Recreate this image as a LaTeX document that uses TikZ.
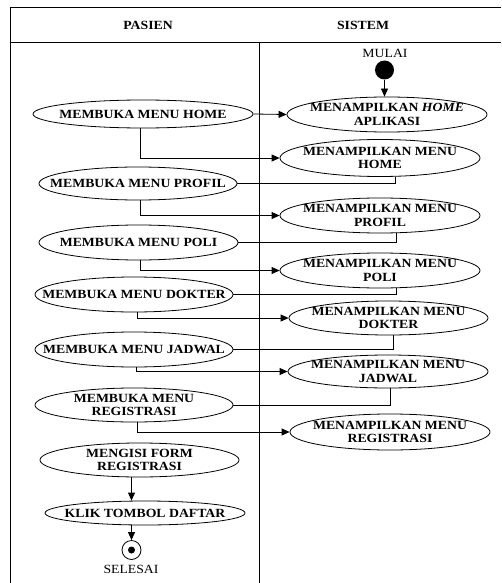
\documentclass[tikz,border=0pt]{standalone}
\usepackage{fontspec}
\setmainfont{Liberation Serif}[FakeStretch=1.1]
\usetikzlibrary{arrows.meta,shapes.geometric,calc}
\begin{document}
\begin{tikzpicture}[x=1pt,y=-1pt,
  act/.style={draw=black, line width=0.8pt, ellipse, inner sep=0pt, fill=white},
  lbl/.style={font=\fontsize{12.5}{13.5}\selectfont\bfseries, align=center, inner sep=0pt},
  plain/.style={font=\fontsize{12.5}{14}\selectfont, inner sep=0pt},
  arr/.style={-{Triangle[length=8pt,width=7pt]}, line width=0.8pt},
  ln/.style={line width=0.8pt},
  frame/.style={line width=1pt}]
\useasboundingbox (0,0) rectangle (501,583);
% swimlane frame
\draw[frame] (10,583) -- (10,8) -- (501,8);
\draw[frame] (10,43) -- (501,43);
\draw[frame] (259,43) -- (259,583);
\node[lbl] (hPasien) at (148,25.5) {PASIEN};
\node[lbl] (hSistem) at (363,25.5) {SISTEM};
% start
\node[plain] (mulai) at (385,53) {MULAI};
\node[circle, fill=black, minimum size=19pt, inner sep=0pt] (start) at (384.5,70) {};
% pasien activities
\node[act, minimum width=220pt, minimum height=28pt, label={[lbl]center:MEMBUKA MENU HOME}] (pHome) at (143,114) {};
\node[act, minimum width=198pt, minimum height=33pt, label={[lbl]center:MEMBUKA MENU PROFIL}] (pProfil) at (138,183.5) {};
\node[act, minimum width=199pt, minimum height=35pt, label={[lbl]center:MEMBUKA MENU POLI}] (pPoli) at (138.5,242.5) {};
\node[act, minimum width=198pt, minimum height=35pt, label={[lbl]center:MEMBUKA MENU DOKTER}] (pDokter) at (134,294.5) {};
\node[act, minimum width=198pt, minimum height=35pt, label={[lbl]center:MEMBUKA MENU JADWAL}] (pJadwal) at (134,349.5) {};
\node[act, minimum width=198pt, minimum height=34pt, label={[lbl]center:{MEMBUKA MENU\\REGISTRASI}}] (pReg) at (134,405) {};
\node[act, minimum width=199pt, minimum height=34pt, label={[lbl]center:{MENGISI FORM\\REGISTRASI}}] (pForm) at (139.5,460) {};
\node[act, minimum width=200pt, minimum height=24pt, label={[lbl]center:KLIK TOMBOL DAFTAR}] (pKlik) at (145,513) {};
% sistem activities
\node[act, minimum width=200pt, minimum height=35pt, label={[lbl]center:{MENAMPILKAN \textit{HOME}\\APLIKASI}}] (sApp) at (387,114.5) {};
\node[act, minimum width=200pt, minimum height=37pt, label={[lbl]center:{MENAMPILKAN MENU\\HOME}}] (sHome) at (380,158) {};
\node[act, minimum width=200pt, minimum height=35pt, label={[lbl]center:{MENAMPILKAN MENU\\PROFIL}}] (sProfil) at (380,215.5) {};
\node[act, minimum width=200pt, minimum height=35pt, label={[lbl]center:{MENAMPILKAN MENU\\POLI}}] (sPoli) at (380,270.5) {};
\node[act, minimum width=199pt, minimum height=34pt, label={[lbl]center:{MENAMPILKAN MENU\\DOKTER}}] (sDokter) at (388.5,318) {};
\node[act, minimum width=200pt, minimum height=33pt, label={[lbl]center:{MENAMPILKAN MENU\\JADWAL}}] (sJadwal) at (388,371.5) {};
\node[act, minimum width=200pt, minimum height=36pt, label={[lbl]center:{MENAMPILKAN MENU\\REGISTRASI}}] (sReg) at (390,432) {};
% end
\node[circle, draw=black, line width=0.8pt, minimum size=19pt, inner sep=0pt] (endc) at (131.5,550) {};
\node[circle, fill=black, minimum size=7pt, inner sep=0pt] (enddot) at (endc.center) {};
\node[plain] (selesai) at (131,569) {SELESAI};
% connectors
\draw[arr] (start) -- (start |- sApp.north);
\draw[arr] (pHome.east) -- (sApp.west);
\draw[arr] ([xshift=-3pt]pHome.south) |- (sHome.west);
\draw[ln] (pProfil.east) -| ([xshift=15pt]sHome.south);
\draw[arr] ([xshift=2pt]pProfil.south) |- (sProfil.west);
\draw[ln] (pPoli.east) -| ([xshift=16pt]sProfil.south);
\draw[arr] ([xshift=1.5pt]pPoli.south) |- (sPoli.west);
\draw[ln] (pDokter.east) -| ([xshift=16pt]sPoli.south);
\draw[arr] ([xshift=3pt]pDokter.south) |- (sDokter.west);
\draw[ln] (pJadwal.east) -| ([xshift=4.5pt]sDokter.south);
\draw[arr] ([xshift=2pt]pJadwal.south) |- (sJadwal.west);
\draw[ln] (pReg.east) -| ([xshift=2pt]sJadwal.south);
\draw[arr] ([xshift=3pt]pReg.south) |- (sReg.west);
\draw[arr] (pForm.south -| endc) -- (pKlik.north -| endc);
\draw[arr] (pKlik.south -| endc) -- (endc.north);
\end{tikzpicture}
\end{document}
